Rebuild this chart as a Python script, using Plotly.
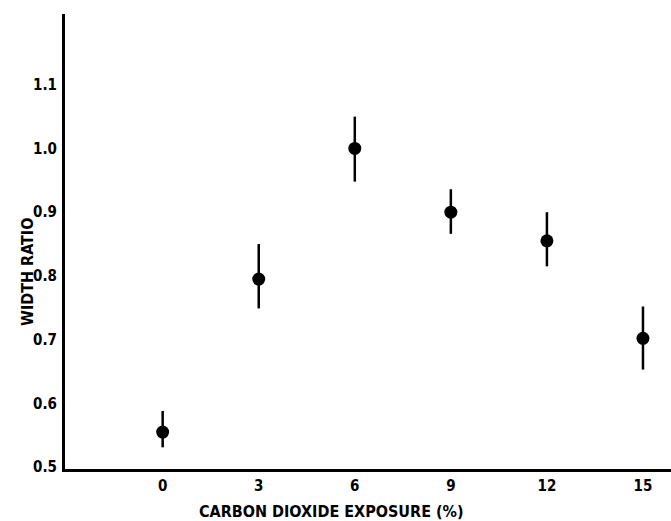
import plotly.graph_objects as go

exposure = [0, 3, 6, 9, 12, 15]
width_ratio = [0.555, 0.795, 1.000, 0.900, 0.855, 0.702]
err_plus = [0.033, 0.055, 0.050, 0.036, 0.045, 0.050]
err_minus = [0.024, 0.046, 0.052, 0.034, 0.040, 0.049]
x_ticks = [0, 3, 6, 9, 12, 15]
y_ticks = [0.5, 0.6, 0.7, 0.8, 0.9, 1.0, 1.1]
y_tick_text = ["0.5", "0.6", "0.7", "0.8", "0.9", "1.0", "1.1"]

font_family = "DejaVu Sans Condensed, Liberation Sans Narrow, Arial Narrow, sans-serif"

L, R, T, B = 65, 671, 14, 469  # plot area edges in pixels
W, H = 671, 521

fig = go.Figure()
fig.add_trace(go.Scatter(
    x=exposure, y=width_ratio, mode="markers",
    marker=dict(color="black", size=13, symbol="circle"),
    error_y=dict(type="data", symmetric=False, array=err_plus, arrayminus=err_minus,
                 color="black", thickness=2.5, width=0),
    showlegend=False,
))

tick_font = dict(family=font_family, size=15, color="black", weight="bold")

fig.update_layout(
    width=W, height=H,
    margin=dict(l=L, r=W - R, t=T, b=H - B, autoexpand=False),
    paper_bgcolor="white", plot_bgcolor="white",
    font=dict(family=font_family, size=15, color="black"),
    xaxis=dict(range=[-3.05, 15.875], tickvals=x_ticks, ticktext=[str(v) for v in x_ticks],
               showgrid=False, zeroline=False, showline=True, linecolor="black", linewidth=3,
               ticks="outside", ticklen=1, tickcolor="rgba(0,0,0,0)",
               tickfont=tick_font, automargin=False),
    yaxis=dict(range=[0.497, 1.211], tickvals=y_ticks, ticktext=y_tick_text,
               showgrid=False, zeroline=False, showline=True, linecolor="black", linewidth=3,
               ticks="outside", ticklen=2, tickcolor="rgba(0,0,0,0)",
               tickfont=tick_font, automargin=False),
    annotations=[
        dict(text="CARBON DIOXIDE EXPOSURE (%)", xref="paper", yref="paper",
             x=(331 - L) / (R - L), y=-(511 - B) / (B - T), showarrow=False,
             xanchor="center", yanchor="middle",
             font=dict(family=font_family, size=16, color="black", weight="bold")),
        dict(text="WIDTH RATIO", xref="paper", yref="paper",
             x=-(L - 27) / (R - L), y=(B - 272) / (B - T), showarrow=False,
             xanchor="center", yanchor="middle", textangle=-90,
             font=dict(family=font_family, size=16, color="black", weight="bold")),
    ],
)
fig.write_html("out.html", post_script="document.body.style.margin='0';",
               config={"displayModeBar": False})
